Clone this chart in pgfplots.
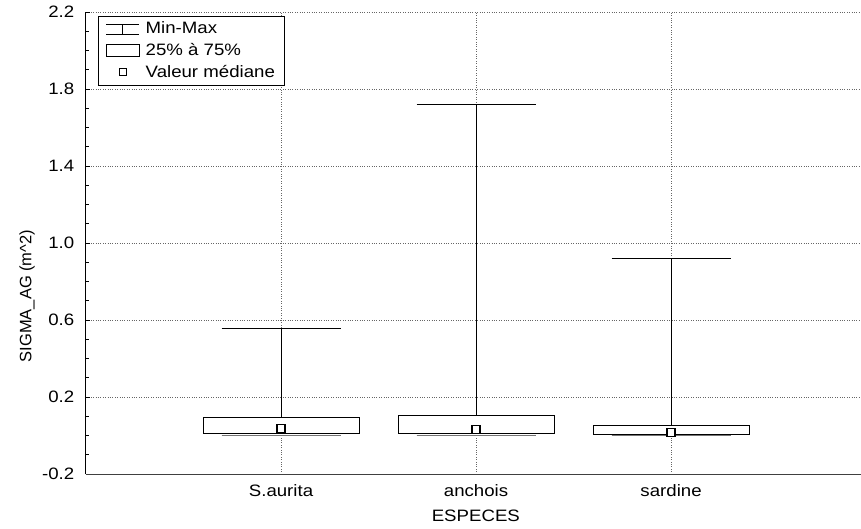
\documentclass[border=0pt]{standalone}
\usepackage{fontspec}
\setmainfont{Liberation Sans}[FakeStretch=1.13]
\newfontfamily\plainfont{Liberation Sans}
\usepackage{pgfplots}
\pgfplotsset{compat=1.18}
\usepgfplotslibrary{statistics}
\begin{document}
\fontsize{16.5pt}{19pt}\selectfont
\begin{tikzpicture}
\path[use as bounding box] (-86pt,-54pt) rectangle (775pt,474pt);
\begin{axis}[
  scale only axis, width=775pt, height=462pt,
  xmin=0, xmax=3.974, ymin=-0.2, ymax=2.2,
  axis x line*=bottom, axis y line*=left,
  axis line style={-, line width=1pt},
  x axis line style={draw=black!75},
  xtick={1,2,3}, xticklabels={S.aurita, anchois, sardine},
  xtick style={draw=none},
  xticklabel style={yshift=-5pt},
  ytick={-0.2,0.2,0.6,1.0,1.4,1.8,2.2},
  yticklabels={-0.2,0.2,0.6,1.0,1.4,1.8,2.2},
  minor y tick num=3,
  tick align=inside,
  major tick length=4pt, minor tick length=3pt,
  ytick style={line width=0.8pt, black},
  yticklabel style={xshift=-6pt},
  /pgf/number format/assume math mode=true,
  grid=major,
  major grid style={dotted, line width=0.8pt, black!60},
  xlabel={ESPECES},
  xlabel style={at={(axis description cs:0.503,0)}, anchor=center, yshift=-42pt},
  ylabel={\plainfont SIGMA\_AG (m\textasciicircum 2)},
  ylabel style={at={(axis description cs:-0.076,0.385)}, anchor=center},
  boxplot/draw direction=y,
  boxplot/draw/median/.code={},
  boxplot/draw/lower whisker/.code={%
    \draw[black!55, line width=1.3pt]
      (boxplot whisker cs:\pgfplotsboxplotvalue{lower whisker},0) --
      (boxplot whisker cs:\pgfplotsboxplotvalue{lower whisker},1);},
  legend style={at={(axis description cs:0,1)}, anchor=north west,
    xshift=12.5pt, yshift=-3.5pt, draw=black, line width=0.8pt, fill=white,
    row sep=3pt, inner xsep=7pt, inner ysep=4pt,
    nodes={inner sep=2pt}},
  legend cell align=left,
  clip=false,
]
\addplot[black, line width=0.9pt, fill=white, forget plot,
  boxplot prepared={draw position=1, lower whisker=0.0, lower quartile=0.011,
    median=0.037, upper quartile=0.095, upper whisker=0.555,
    box extend=0.8, whisker extend=0.61}] coordinates {};
\addplot[black, line width=0.9pt, fill=white, forget plot,
  boxplot prepared={draw position=2, lower whisker=0.0, lower quartile=0.011,
    median=0.032, upper quartile=0.103, upper whisker=1.72,
    box extend=0.8, whisker extend=0.61}] coordinates {};
\addplot[black, line width=0.9pt, fill=white, forget plot,
  boxplot prepared={draw position=3, lower whisker=0.0, lower quartile=0.007,
    median=0.015, upper quartile=0.051, upper whisker=0.921,
    box extend=0.8, whisker extend=0.61}] coordinates {};
\addplot[only marks, mark=square*, mark size=4pt, forget plot,
  mark options={fill=white, draw=black, line width=1.3pt}]
  coordinates {(1,0.037) (2,0.032) (3,0.015)};
\addlegendimage{legend image code/.code={%
  \draw[black, line width=0.8pt] (0pt,-5pt) -- (33pt,-5pt) (0pt,5pt) -- (33pt,5pt)
    (16.5pt,-5pt) -- (16.5pt,5pt); \path (37pt,0pt);}}
\addlegendentry{Min-Max}
\addlegendimage{legend image code/.code={%
  \draw[black, line width=0.8pt, fill=white] (0pt,-6pt) rectangle (33pt,6pt); \path (37pt,0pt);}}
\addlegendentry{25\% à 75\%}
\addlegendimage{legend image code/.code={%
  \path (0pt,0pt) (37pt,0pt);
  \draw[black, line width=1.3pt, fill=white] (13pt,-3.5pt) rectangle (20pt,3.5pt);}}
\addlegendentry{Valeur médiane}
\end{axis}
\end{tikzpicture}
\end{document}
